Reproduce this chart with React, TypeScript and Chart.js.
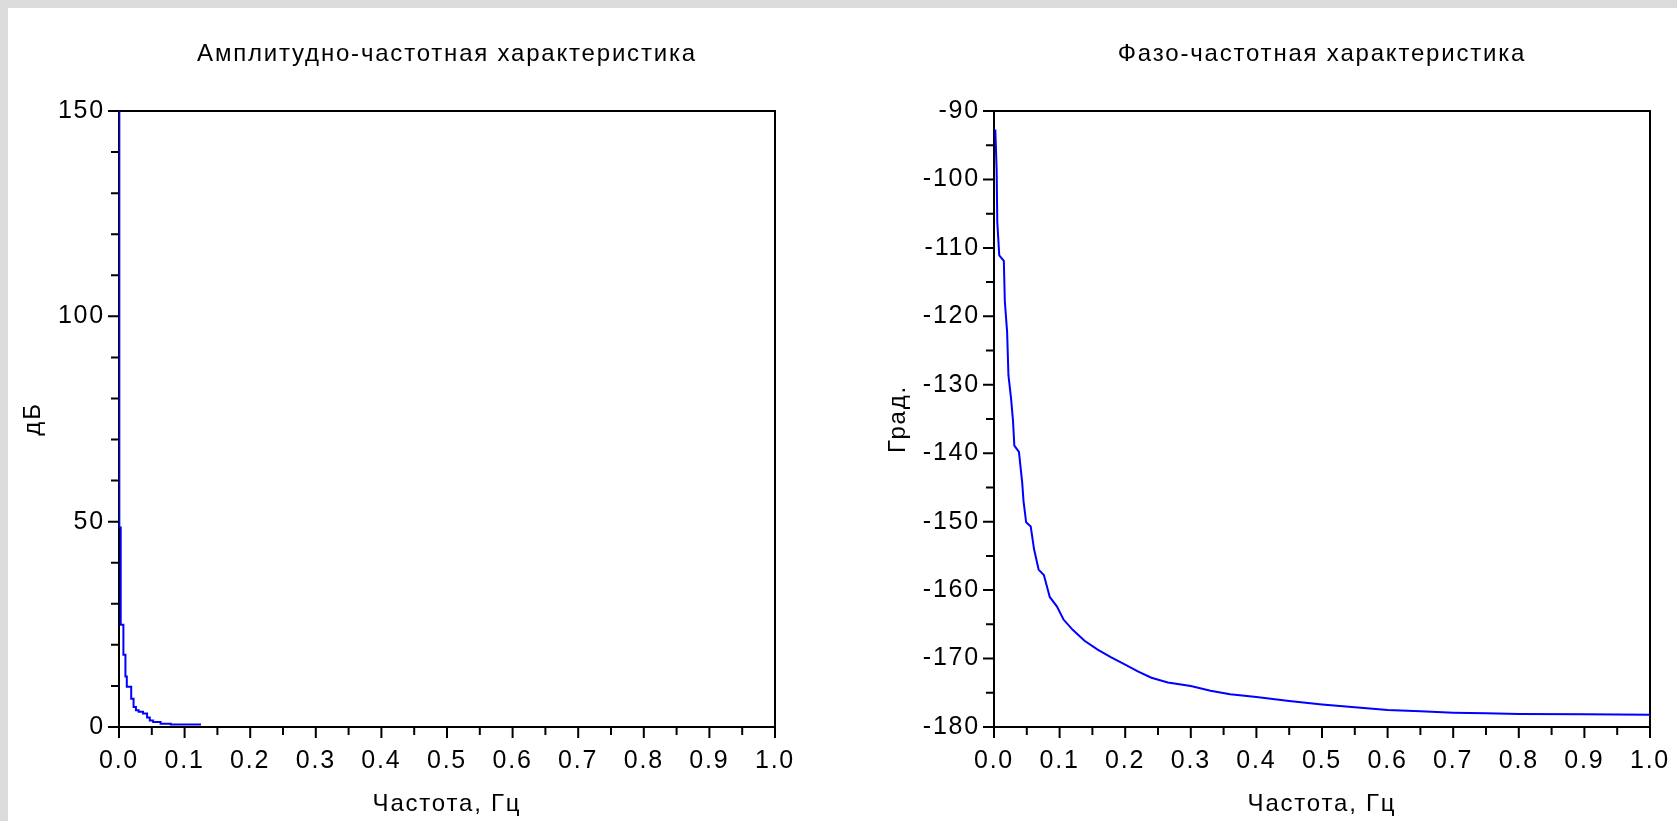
import React, { useEffect, useRef } from 'react';
import { Chart, registerables } from 'chart.js';

Chart.register(...registerables);

// ---- Data -----------------------------------------------------------------
// Амплитудно-частотная характеристика (frequency, Hz -> dB)
const ampFreq = [0.0005, 0.0026, 0.0067, 0.0098, 0.0119, 0.0186, 0.0222, 0.0258, 0.0299, 0.0366, 0.0428, 0.0469, 0.052, 0.0634, 0.0789, 0.0943, 0.125];
const ampDb = [400, 48.6, 24.9, 17.6, 12.3, 9.8, 6.9, 4.9, 4.1, 3.7, 3.3, 2.3, 1.6, 1.2, 0.8, 0.6, 0.6];

// Фазо-частотная характеристика (frequency, Hz -> degrees)
const phaseFreq = [0.002, 0.004, 0.005, 0.008, 0.015, 0.0165, 0.02, 0.022, 0.026, 0.029, 0.031, 0.038, 0.043, 0.045, 0.049, 0.056, 0.061, 0.068, 0.076, 0.085, 0.096, 0.106, 0.12, 0.138, 0.158, 0.178, 0.2, 0.22, 0.24, 0.265, 0.3, 0.33, 0.36, 0.4, 0.45, 0.5, 0.55, 0.6, 0.65, 0.7, 0.75, 0.8, 0.9, 1.0];
const phaseDeg = [-92.7, -98.5, -106.2, -111.1, -111.9, -117.8, -122.3, -128.6, -132, -135.3, -138.9, -139.8, -144.3, -147, -150.1, -150.7, -154, -157, -157.8, -161, -162.4, -164.3, -165.8, -167.4, -168.7, -169.8, -170.9, -171.9, -172.8, -173.5, -174.0, -174.7, -175.2, -175.6, -176.2, -176.7, -177.1, -177.5, -177.7, -177.9, -178.0, -178.1, -178.15, -178.2];

// Ticks (empty label = minor tick)
const freqTicks = [0, 0.05, 0.1, 0.15, 0.2, 0.25, 0.3, 0.35, 0.4, 0.45, 0.5, 0.55, 0.6, 0.65, 0.7, 0.75, 0.8, 0.85, 0.9, 0.95, 1.0];
const freqTickLabels = ['0.0', '', '0.1', '', '0.2', '', '0.3', '', '0.4', '', '0.5', '', '0.6', '', '0.7', '', '0.8', '', '0.9', '', '1.0'];
const ampTicks = [0, 10, 20, 30, 40, 50, 60, 70, 80, 90, 100, 110, 120, 130, 140, 150];
const ampTickLabels = ['0', '', '', '', '', '50', '', '', '', '', '100', '', '', '', '', '150'];
const phaseTicks = [-180, -175, -170, -165, -160, -155, -150, -145, -140, -135, -130, -125, -120, -115, -110, -105, -100, -95, -90];
const phaseTickLabels = ['-180', '', '-170', '', '-160', '', '-150', '', '-140', '', '-130', '', '-120', '', '-110', '', '-100', '', '-90'];

// ---- Styling ---------------------------------------------------------------
const FAMILY = '"Liberation Sans", Arial, sans-serif';
const TICK_SIZE = 25;
const TEXT_SIZE = 24;
const LETTER_SPACING = '1.8px';
const CANVAS_H = 813;
const PLOT_TOP = 103;
const X_AXIS_H = 94;
const TITLE_CY = 46.5;

const spacingPlugin = {
  id: 'letterSpacing',
  beforeUpdate(chart: any) { chart.ctx.letterSpacing = LETTER_SPACING; },
  beforeDraw(chart: any) { chart.ctx.letterSpacing = LETTER_SPACING; },
};

const framePlugin = {
  id: 'frameTicks',
  beforeDatasetsDraw(chart: any) {
    const { ctx, chartArea: a, scales } = chart;
    ctx.save();
    ctx.strokeStyle = '#000';
    ctx.lineWidth = 2;
    ctx.strokeRect(a.left, a.top, a.right - a.left, a.bottom - a.top);
    ctx.beginPath();
    const xs = scales.x;
    xs.ticks.forEach((t: any) => {
      const p = xs.getPixelForValue(t.value);
      const len = t.label ? 11 : 8;
      ctx.moveTo(p, a.bottom);
      ctx.lineTo(p, a.bottom + len);
    });
    const ys = scales.y;
    ys.ticks.forEach((t: any) => {
      const p = ys.getPixelForValue(t.value);
      const len = t.label ? 11 : 8;
      ctx.moveTo(a.left, p);
      ctx.lineTo(a.left - len, p);
    });
    ctx.stroke();
    ctx.restore();
  },
};

type PanelProps = {
  freq: number[];
  vals: number[];
  stepped: any;
  yMin: number;
  yMax: number;
  yTicks: number[];
  yTickLabels: string[];
  title: string;
  yTitle: string;
  yWidth: number;
  padRight: number;
  yTitleCenter: number;
  width: number;
};

function buildConfig(p: PanelProps): any {
  const tickFont = { family: FAMILY, size: TICK_SIZE, weight: 'normal' as const };
  const textFont = { family: FAMILY, size: TEXT_SIZE, weight: 'normal' as const };
  const lh = TEXT_SIZE * 1.2;
  const tlh = TICK_SIZE * 1.2;
  return {
    type: 'line',
    data: {
      datasets: [
        {
          data: p.freq.map((x, i) => ({ x, y: p.vals[i] })),
          borderColor: '#0000ff',
          borderWidth: 2,
          pointRadius: 0,
          fill: false,
          tension: 0,
          stepped: p.stepped,
        },
      ],
    },
    options: {
      animation: false,
      responsive: false,
      devicePixelRatio: 1,
      events: [],
      layout: { padding: { top: 0, left: 0, bottom: 0, right: p.padRight } },
      plugins: {
        legend: { display: false },
        tooltip: { enabled: false },
        title: {
          display: true,
          text: p.title,
          fullSize: false,
          color: '#000',
          font: textFont,
          padding: { top: TITLE_CY - lh / 2, bottom: PLOT_TOP - TITLE_CY - lh / 2 },
        },
      },
      scales: {
        x: {
          type: 'linear',
          position: 'bottom',
          min: 0,
          max: 1,
          afterBuildTicks: (s: any) => { s.ticks = freqTicks.map((v) => ({ value: v })); },
          afterFit: (s: any) => { s.height = X_AXIS_H; s.paddingLeft = 0; s.paddingRight = 0; },
          grid: { display: false, drawTicks: false },
          border: { display: false },
          ticks: {
            autoSkip: false,
            maxRotation: 0,
            minRotation: 0,
            padding: 34 - tlh / 2,
            color: '#000',
            font: tickFont,
            callback: (_v: any, i: number) => freqTickLabels[i],
          },
          title: {
            display: true,
            text: 'Частота, Гц',
            color: '#000',
            font: textFont,
            padding: { top: 0, bottom: 17 - lh / 2 },
          },
        },
        y: {
          type: 'linear',
          position: 'left',
          min: p.yMin,
          max: p.yMax,
          afterBuildTicks: (s: any) => { s.ticks = p.yTicks.map((v) => ({ value: v })); },
          afterFit: (s: any) => { s.width = p.yWidth; s.paddingTop = 0; s.paddingBottom = 0; },
          grid: { display: false, drawTicks: false },
          border: { display: false },
          ticks: {
            autoSkip: false,
            padding: 14,
            color: '#000',
            font: tickFont,
            callback: (_v: any, i: number) => p.yTickLabels[i],
          },
          title: {
            display: true,
            text: p.yTitle,
            color: '#000',
            font: textFont,
            padding: { top: p.yTitleCenter - lh / 2, bottom: 0 },
          },
        },
      },
    },
    plugins: [spacingPlugin, framePlugin],
  };
}

function Panel(props: PanelProps & { left: number }) {
  const ref = useRef<HTMLCanvasElement | null>(null);
  useEffect(() => {
    if (!ref.current) return;
    const chart = new Chart(ref.current, buildConfig(props));
    return () => chart.destroy();
  }, []);
  return (
    <canvas
      ref={ref}
      width={props.width}
      height={CANVAS_H}
      style={{ position: 'absolute', left: props.left, top: 0, width: props.width, height: CANVAS_H, display: 'block' }}
    />
  );
}

export default function App() {
  return (
    <div style={{ position: 'fixed', left: 0, top: 0, right: 0, bottom: 0, background: '#dcdcdc', overflow: 'hidden' }}>
      <div style={{ position: 'absolute', left: 8, top: 8, right: 0, bottom: 0, background: '#ffffff' }}>
        <Panel
          left={0}
          width={828}
          freq={ampFreq}
          vals={ampDb}
          stepped="after"
          yMin={0}
          yMax={150}
          yTicks={ampTicks}
          yTickLabels={ampTickLabels}
          title="Амплитудно-частотная характеристика"
          yTitle="дБ"
          yWidth={111}
          padRight={61}
          yTitleCenter={25}
        />
        <Panel
          left={828}
          width={841}
          freq={phaseFreq}
          vals={phaseDeg}
          stepped={false}
          yMin={-180}
          yMax={-90}
          yTicks={phaseTicks}
          yTickLabels={phaseTickLabels}
          title="Фазо-частотная характеристика"
          yTitle="Град."
          yWidth={158}
          padRight={27}
          yTitleCenter={62}
        />
      </div>
    </div>
  );
}
